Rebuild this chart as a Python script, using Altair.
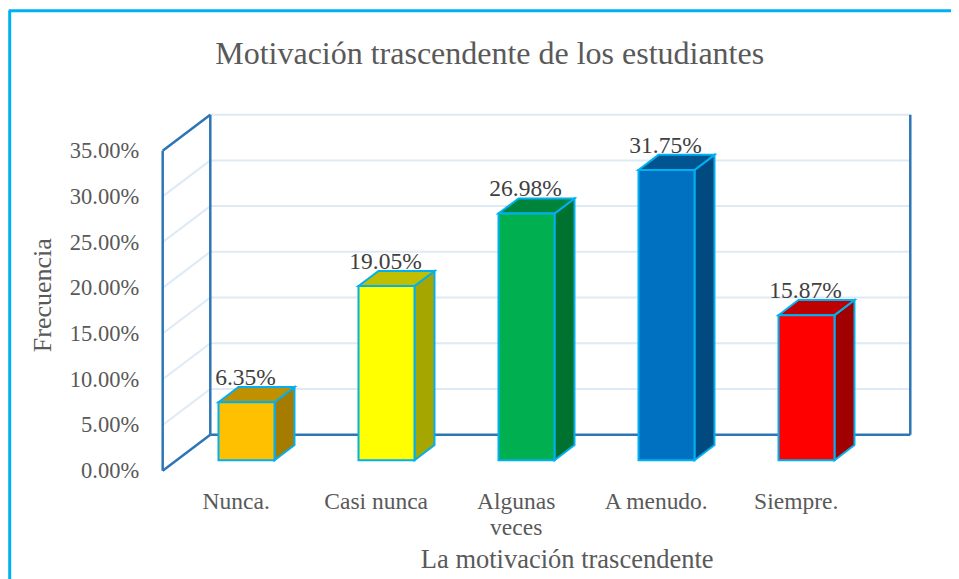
import altair as alt
import pandas as pd

categories = ["Nunca.", "Casi nunca", "Algunas veces", "A menudo.", "Siempre."]
values = [0.0635, 0.1905, 0.2698, 0.3175, 0.1587]
labels = ["6.35%", "19.05%", "26.98%", "31.75%", "15.87%"]
front = ["#FFC000", "#FFFF00", "#00B050", "#0070C0", "#FF0000"]
side = ["#A67C00", "#A6A600", "#00722F", "#004A80", "#A00000"]
top = ["#BF9000", "#BFBF00", "#00843C", "#00548F", "#BF0000"]
ticks = [0, 0.05, 0.10, 0.15, 0.20, 0.25, 0.30, 0.35]

# projection of the oblique box: depth 1 shifts by these amounts in data units
DX, DY = 0.34, 0.0394
D0, D1 = 0.29, 0.71
HALF = 0.2
YMAX = 0.35
NCAT = len(categories)
SERIF = "Liberation Serif"
FRAME, WALL, GRID, EDGE = "#00B0F0", "#2E75B6", "#DEEAF6", "#00B0F0"

xs = alt.Scale(domain=[0, NCAT], nice=False, zero=False)
ys = alt.Scale(domain=[0, YMAX], nice=False)

# walls and grid
grid_lines, wall_lines = [], []
for t in ticks[1:]:
    grid_lines.append(dict(x=DX, x2=NCAT + DX, y=t + DY, y2=t + DY, c=GRID))
    grid_lines.append(dict(x=0, x2=DX, y=t, y2=t + DY, c=GRID))
wall_lines += [
    dict(x=0, x2=0, y=0, y2=YMAX, c=WALL),
    dict(x=0, x2=DX, y=YMAX, y2=YMAX + DY, c=WALL),
    dict(x=DX, x2=DX, y=DY, y2=YMAX + DY, c=WALL),
    dict(x=0, x2=DX, y=0, y2=DY, c=WALL),
    dict(x=DX, x2=NCAT + DX, y=DY, y2=DY, c=WALL),
    dict(x=NCAT + DX, x2=NCAT + DX, y=DY, y2=YMAX + DY, c=WALL),
]

fr, sd, tp, lb = [], [], [], []
for i, v in enumerate(values):
    left = i + 0.5 - HALF + D0 * DX
    right = i + 0.5 + HALF + D0 * DX
    d = (D1 - D0) * DX
    b0, v0 = D0 * DY, v + D0 * DY
    b1, v1 = D1 * DY, v + D1 * DY
    fr.append(dict(x=left, x2=right, y=b0, y2=v0, c=front[i]))
    sd.append(dict(g=i, x=right, y=b0, y2=v0, c=side[i]))
    sd.append(dict(g=i, x=right + d, y=b1, y2=v1, c=side[i]))
    tp.append(dict(g=i, y=v0, x=left, x2=right, c=top[i]))
    tp.append(dict(g=i, y=v1, x=left + d, x2=right + d, c=top[i]))
    lb.append(dict(x=(left + right) / 2, y=v1, t=labels[i]))

label_expr = "['Nunca.','Casi nunca',['Algunas','veces'],'A menudo.','Siempre.'][floor(datum.value)]"

xaxis = alt.Axis(
    values=[i + 0.5 for i in range(NCAT)], labelExpr=label_expr, title="La motivación trascendente",
    domain=False, ticks=False, grid=False, labelFont=SERIF, labelFontSize=23.5, labelColor="#595959",
    labelPadding=19, labelLineHeight=26, labelOffset=3, labelAngle=0, labelFlush=False,
    labelOverlap=False, titleFont=SERIF, titleFontSize=26.5, titleFontWeight="normal", titleColor="#595959",
    titleX=404, titleY=97, titleBaseline="alphabetic",
)
yaxis = alt.Axis(
    values=ticks, format=".2%", title="Frecuencia", domain=False, ticks=False, grid=False,
    labelFont=SERIF, labelFontSize=22.5, labelColor="#595959", labelPadding=24,
    titleFont=SERIF, titleFontSize=26, titleFontWeight="normal", titleColor="#595959",
    titleX=-112, titleY=144, titleAngle=270, titleBaseline="alphabetic",
)

grid_layer = alt.Chart(pd.DataFrame(grid_lines)).mark_rule(strokeWidth=2).encode(
    x=alt.X("x:Q", scale=xs, axis=xaxis),
    x2="x2:Q",
    y=alt.Y("y:Q", scale=ys, axis=yaxis),
    y2="y2:Q",
    color=alt.Color("c:N", scale=None),
)
wall_layer = alt.Chart(pd.DataFrame(wall_lines)).mark_rule(strokeWidth=2.5).encode(
    x=alt.X("x:Q", scale=xs), x2="x2:Q", y=alt.Y("y:Q", scale=ys), y2="y2:Q", color=alt.Color("c:N", scale=None),
)
faces_front = alt.Chart(pd.DataFrame(fr)).mark_rect(stroke=EDGE, strokeWidth=2).encode(
    x=alt.X("x:Q", scale=xs), x2="x2:Q", y=alt.Y("y:Q", scale=ys), y2="y2:Q", color=alt.Color("c:N", scale=None),
)
faces_side = alt.Chart(pd.DataFrame(sd)).mark_area(stroke=EDGE, strokeWidth=2, opacity=1).encode(
    x=alt.X("x:Q", scale=xs), y=alt.Y("y:Q", scale=ys), y2="y2:Q", color=alt.Color("c:N", scale=None), detail="g:N",
)
faces_top = alt.Chart(pd.DataFrame(tp)).mark_area(stroke=EDGE, strokeWidth=2, opacity=1, orient="horizontal").encode(
    y=alt.Y("y:Q", scale=ys), x=alt.X("x:Q", scale=xs), x2="x2:Q", color=alt.Color("c:N", scale=None), detail="g:N",
)
texts = alt.Chart(pd.DataFrame(lb)).mark_text(
    font=SERIF, fontSize=23.5, color="#404040", baseline="alphabetic", dy=-2, dx=-1
).encode(x=alt.X("x:Q", scale=xs), y=alt.Y("y:Q", scale=ys), text="t:N")

frame_left = alt.Chart(pd.DataFrame({"k": [0]})).mark_rule(color=FRAME, strokeWidth=3).encode(
    x=alt.value(-153), y=alt.value(-140), y2=alt.value(430)
)
frame_top = alt.Chart(pd.DataFrame({"k": [0]})).mark_rule(color=FRAME, strokeWidth=3).encode(
    x=alt.value(-154), x2=alt.value(796), y=alt.value(-140)
)

chart = alt.layer(
    frame_left, frame_top, grid_layer, wall_layer, faces_side, faces_top, faces_front, texts
).properties(
    width=700, height=320,
    title=alt.TitleParams(
        "Motivación trascendente de los estudiantes", font=SERIF, fontSize=32, fontWeight="normal",
        color="#595959", anchor="middle", frame="group", dx=-23, offset=0, dy=62,
    ),
    autosize=alt.AutoSizeParams(type="none"),
    padding={"left": 154.7, "top": 142.7, "right": 88, "bottom": 108},
).configure_view(stroke=None)

chart.save("out.html", embed_options={"renderer": "svg", "actions": False})
